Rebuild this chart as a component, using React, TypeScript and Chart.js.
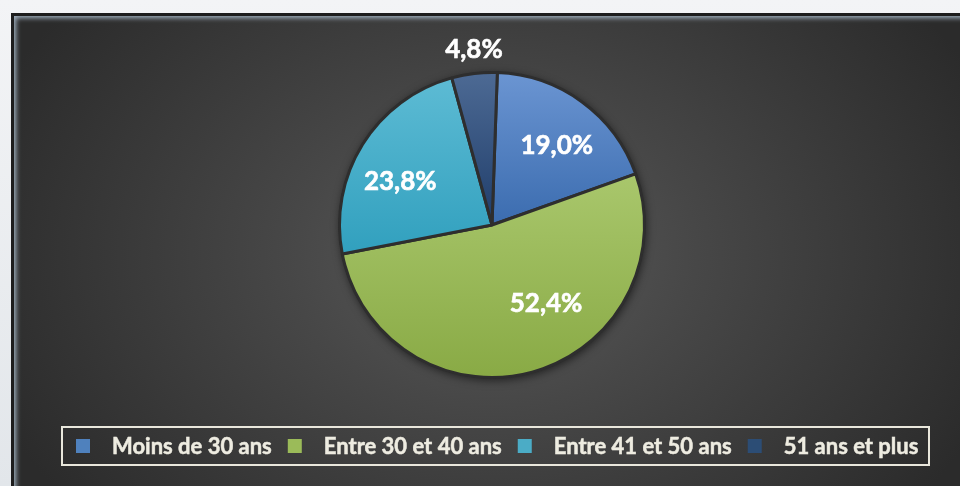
import React, { useEffect, useRef } from "react";
import { Chart, registerables } from "chart.js";

Chart.register(...registerables);

const categories = ["Moins de 30 ans", "Entre 30 et 40 ans", "Entre 41 et 50 ans", "51 ans et plus"];
const shares = [19.0, 52.4, 23.8, 4.8];
const sliceTop = ["#6b95d2", "#a9c76c", "#5dbbd4", "#4d6a94"];
const sliceBottom = ["#3b6caf", "#89aa45", "#31a0be", "#1f3d6a"];
const legendColors = ["#4f81bd", "#9bbb59", "#4bacc6", "#2c4d75"];

const ROTATION = 2;
const BORDER = 3;

function sliceGradient(c: any, i: number) {
  const chart = c.chart;
  const area = chart.chartArea;
  if (!area) return legendColors[i];
  const cx = (area.left + area.right) / 2;
  const cy = (area.top + area.bottom) / 2;
  const r = (Math.min(area.width, area.height) - BORDER) / 2;
  const data: number[] = c.dataset.data;
  const total = data.reduce((a, b) => a + b, 0);
  let acc = 0;
  for (let k = 0; k < i; k++) acc += data[k];
  const base = -Math.PI / 2 + (ROTATION * Math.PI) / 180;
  const s = base + (acc / total) * 2 * Math.PI;
  const e = s + (data[i] / total) * 2 * Math.PI;
  const ys = [cy, cy + r * Math.sin(s), cy + r * Math.sin(e)];
  for (let k = -2; k <= 2; k++) {
    const top = -Math.PI / 2 + k * 2 * Math.PI;
    const bot = Math.PI / 2 + k * 2 * Math.PI;
    if (top > s && top < e) ys.push(cy - r);
    if (bot > s && bot < e) ys.push(cy + r);
  }
  const y0 = Math.min(...ys);
  const y1 = Math.max(...ys);
  const g = chart.ctx.createLinearGradient(0, y0, 0, y1);
  g.addColorStop(0, sliceTop[i]);
  g.addColorStop(1, sliceBottom[i]);
  return g;
}

const pieShadow = {
  id: "pieShadow",
  beforeDatasetsDraw(chart: any) {
    const arc = chart.getDatasetMeta(0).data[0];
    if (!arc) return;
    const { x, y, outerRadius } = arc.getProps(["x", "y", "outerRadius"], true);
    const ctx = chart.ctx;
    ctx.save();
    ctx.shadowColor = "rgba(0,0,0,0.55)";
    ctx.shadowBlur = 8;
    ctx.shadowOffsetX = 1;
    ctx.shadowOffsetY = 2;
    ctx.fillStyle = "#2e2e2e";
    ctx.beginPath();
    ctx.arc(x, y, outerRadius + 1, 0, Math.PI * 2);
    ctx.fill();
    ctx.restore();
  },
};

const sliceLabels = {
  id: "sliceLabels",
  afterDatasetsDraw(chart: any, _args: any, opts: any) {
    const ctx = chart.ctx;
    const meta = chart.getDatasetMeta(0);
    const data: number[] = chart.data.datasets[0].data;
    ctx.save();
    ctx.font = "bold 26px Lato";
    ctx.fillStyle = "#ffffff";
    ctx.textAlign = "center";
    ctx.textBaseline = "middle";
    ctx.lineWidth = 0.6;
    ctx.strokeStyle = "#ffffff";
    meta.data.forEach((el: any, i: number) => {
      const p = el.getProps(["x", "y", "startAngle", "endAngle", "outerRadius"], true);
      const a = (p.startAngle + p.endAngle) / 2 + (opts.angleShift[i] * Math.PI) / 180;
      const r = p.outerRadius * opts.radial[i];
      const txt = data[i].toFixed(1).replace(".", ",") + "%";
      const tx = p.x + Math.cos(a) * r;
      const ty = p.y + Math.sin(a) * r + 1;
      ctx.fillText(txt, tx, ty);
      ctx.strokeText(txt, tx, ty);
    });
    ctx.restore();
  },
};

const boxLegend = {
  id: "boxLegend",
  afterDraw(chart: any, _args: any, opts: any) {
    const ctx = chart.ctx;
    const labels: string[] = chart.data.labels;
    ctx.save();
    ctx.strokeStyle = "#e9e7dc";
    ctx.lineWidth = 2;
    ctx.strokeRect(opts.left, opts.top, opts.right - opts.left, opts.bottom - opts.top);
    ctx.font = "bold 22px Lato";
    ctx.textBaseline = "middle";
    ctx.lineWidth = 0.5;
    ctx.strokeStyle = "#eeece1";
    const midY = (opts.top + opts.bottom) / 2;
    let x = opts.left + 14;
    labels.forEach((lab, i) => {
      ctx.fillStyle = legendColors[i];
      ctx.fillRect(x, midY - 7, 14, 14);
      ctx.fillStyle = "#eeece1";
      ctx.fillText(lab, x + 36, midY + 1);
      ctx.strokeText(lab, x + 36, midY + 1);
      x += 36 + ctx.measureText(lab).width + 16;
    });
    ctx.restore();
  },
};

export default function App() {
  const ref = useRef<HTMLCanvasElement | null>(null);
  useEffect(() => {
    if (!ref.current) return;
    const chart = new Chart(ref.current, {
      type: "pie",
      data: {
        labels: categories,
        datasets: [
          {
            data: shares,
            backgroundColor: (c: any) => sliceGradient(c, c.dataIndex),
            borderColor: "#2e2e2e",
            borderWidth: BORDER,
          },
        ],
      },
      options: {
        responsive: false,
        animation: false,
        rotation: ROTATION,
        layout: { padding: { left: 338, right: 314, top: 71, bottom: 107 } },
        plugins: {
          legend: { display: false },
          tooltip: { enabled: false },
          sliceLabels: { angleShift: [2.7, -19.6, -6.3, 0.8], radial: [0.676, 0.62, 0.667, 1.163] },
          boxLegend: { left: 62, top: 427, right: 929, bottom: 465 },
        } as any,
      },
      plugins: [pieShadow, sliceLabels, boxLegend],
    });
    return () => chart.destroy();
  }, []);

  return (
    <div style={{ position: "fixed", left: 0, top: 0, width: 960, height: 486, overflow: "hidden", background: "linear-gradient(to bottom, #f3f4f6, #e2e6ea)" }}>
      <div style={{ position: "absolute", left: 11, top: 13, width: 980, height: 500, background: "#1d1d1d" }}>
        <div
          style={{
            position: "absolute",
            left: 3,
            top: 3,
            right: 0,
            bottom: 0,
            background: "radial-gradient(ellipse 540px 400px at 478px 238px, #5a5a5a 0%, #474747 38%, #2b2b2b 100%)",
            boxShadow: "inset 0 0 5px 2px rgba(168,184,200,0.95)",
          }}
        />
      </div>
      <canvas ref={ref} width={960} height={486} style={{ position: "absolute", left: 0, top: 0 }} />
    </div>
  );
}
